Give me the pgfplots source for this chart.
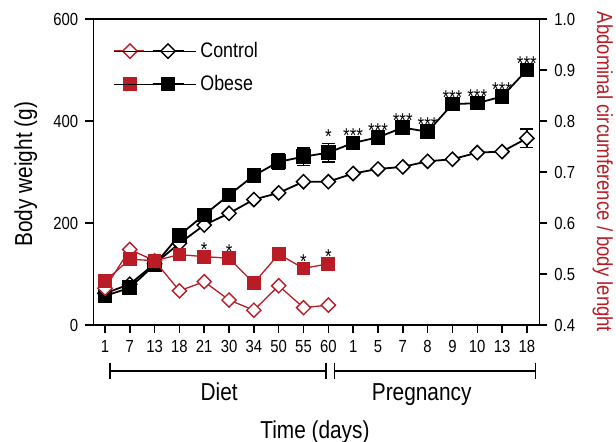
\documentclass[border=0pt]{standalone}
\usepackage{fontspec}
\setmainfont{Liberation Sans}[FakeStretch=0.85]
\usepackage{pgfplots}
\pgfplotsset{compat=1.18}
\usepackage{pgfplotstable}
\definecolor{obred}{RGB}{185,28,36}

\pgfplotstableread{
pos wC wO eC eO
0 62 57 0 0
1 80 73 0 0
2 120 118 0 0
3 160 176 0 0
4 196 216 0 0
5 219 255 0 0
6 246 293 0 0
7 259 320 0 15
8 281 330 0 17
9 281 338 0 18
10 297 357 0 0
11 306 368 0 0
12 310 387 0 0
13 321 379 0 0
14 325 433 0 0
15 338 435 0 0
16 340 448 0 0
17 366 500 18 0
}\bw

\pgfplotstableread{
pos rC rO
0 0.472 0.486
1 0.548 0.529
2 0.526 0.526
3 0.467 0.538
4 0.485 0.534
5 0.449 0.531
6 0.429 0.482
7 0.477 0.539
8 0.434 0.511
9 0.439 0.520
}\ratio

\pgfplotsset{common/.style={
  scale only axis, width=223pt, height=153pt,
  xmin=-0.47, xmax=17.5,
  tick align=outside, major tick length=4pt,
  axis line style={line width=0.75pt},
  major tick style={line width=0.75pt, black},
  tick label style={font=\fontsize{8.75}{10}\selectfont},
  label style={font=\fontsize{12.25}{14}\selectfont},
  /pgf/number format/assume math mode=true,
  clip=false,
}}
\tikzset{ast/.style={anchor=base, inner sep=0pt, font=\fontsize{10}{11}\selectfont}}

\begin{document}
\begin{tikzpicture}
\path[use as bounding box] (-46.65pt,-58.5pt) rectangle (261.35pt,162.5pt);
\begin{axis}[common,
  ymin=0, ymax=600, ytick={0,200,400,600}, ytick pos=left,
  xtick={0,...,17}, xtick pos=bottom,
  xticklabels={1,7,13,18,21,30,34,50,55,60,1,5,7,8,9,10,13,18},
  ylabel={Body weight (g)}, xlabel={Time (days)},
  ylabel style={at={(axis description cs:-0.1374,0.493)}, anchor=base},
  xlabel style={at={(axis description cs:0.497,-0.3725)}, anchor=base},
  legend style={at={(axis description cs:0.044,0.841)}, anchor=west, draw=none, fill=none,
    inner sep=0pt, row sep=3.4pt, font=\fontsize{10.5}{12}\selectfont},
  legend cell align=left,
]
\addlegendimage{legend image code/.code={%
  \draw[obred, line width=0.65pt] (0pt,0pt) -- (15pt,0pt);
  \draw[obred, line width=0.7pt, fill=white] (8pt,3.6pt) -- (11.6pt,0pt) -- (8pt,-3.6pt) -- (4.4pt,0pt) -- cycle;
  \draw[black, line width=0.8pt] (19.5pt,0pt) -- (35pt,0pt);
  \draw[black, line width=0.7pt, fill=white] (27pt,3.6pt) -- (30.6pt,0pt) -- (27pt,-3.6pt) -- (23.4pt,0pt) -- cycle;
  \path (0pt,0pt) -- (41pt,0pt);
}}
\addlegendentry{Control}
\addlegendimage{legend image code/.code={%
  \draw[obred, line width=0.65pt] (0pt,0pt) -- (15pt,0pt);
  \fill[obred] (4.8pt,-3.2pt) rectangle (11.2pt,3.2pt);
  \draw[black, line width=0.8pt] (19.5pt,0pt) -- (35pt,0pt);
  \fill[black] (23.8pt,-3.2pt) rectangle (30.2pt,3.2pt);
  \path (0pt,0pt) -- (41pt,0pt);
}}
\addlegendentry{Obese}

\addplot[forget plot, black, line width=0.9pt, mark=square*, mark size=2.5pt,
  mark options={solid, rotate=45, fill=white, line width=0.75pt},
  error bars/.cd, y dir=both, y explicit,
  error bar style={line width=0.8pt}, error mark options={rotate=90, mark size=3.2pt, line width=0.8pt}]
  table[x=pos, y=wC, y error=eC]{\bw};
\addplot[forget plot, black, line width=0.9pt, mark=square*, mark size=3.2pt,
  mark options={solid, fill=black},
  error bars/.cd, y dir=both, y explicit,
  error bar style={line width=0.8pt}, error mark options={rotate=90, mark size=3.2pt, line width=0.8pt}]
  table[x=pos, y=wO, y error=eO]{\bw};

\node[ast] at (axis cs:9,338) [yshift=4.6pt] {*};
\node[ast] at (axis cs:10,357) {***};
\node[ast] at (axis cs:11,368) {***};
\node[ast] at (axis cs:12,387) {***};
\node[ast] at (axis cs:13,379) {***};
\node[ast] at (axis cs:14,433) {***};
\node[ast] at (axis cs:15,435) {***};
\node[ast] at (axis cs:16,448) {***};
\node[ast] at (axis cs:17,500) {***};

\draw[line width=0.9pt] (axis cs:0.2,-89.6) -- (axis cs:8.91,-89.6);
\draw[line width=0.9pt] (axis cs:0.2,-73.9) -- (axis cs:0.2,-105.3);
\draw[line width=0.9pt] (axis cs:8.91,-73.9) -- (axis cs:8.91,-105.3);
\draw[line width=0.9pt] (axis cs:9.25,-89.6) -- (axis cs:17.35,-89.6);
\draw[line width=0.9pt] (axis cs:9.25,-73.9) -- (axis cs:9.25,-105.3);
\draw[line width=0.9pt] (axis cs:17.35,-73.9) -- (axis cs:17.35,-105.3);
\node[anchor=base, font=\fontsize{12.25}{14}\selectfont] at (axis cs:4.6,-149) {Diet};
\node[anchor=base, font=\fontsize{12.25}{14}\selectfont] at (axis cs:12.76,-149) {Pregnancy};
\end{axis}

\begin{axis}[common,
  ymin=0.4, ymax=1.0, ytick={0.4,0.5,0.6,0.7,0.8,0.9,1.0},
  axis x line=none, axis y line*=right,
  yticklabel style={/pgf/number format/.cd, fixed, fixed zerofill, precision=1},
  ylabel={Abdominal circumference / body lenght},
  ylabel style={at={(axis description cs:1.1294,0.5)}, anchor=base, rotate=180, text=obred,
    font=\fontsize{10.9}{12}\selectfont},
]
\addplot[obred, line width=0.65pt, mark=square*, mark size=2.5pt,
  mark options={solid, rotate=45, fill=white, line width=0.7pt}]
  table[x=pos, y=rC]{\ratio};
\addplot[obred, line width=0.65pt, mark=square*, mark size=3.1pt,
  mark options={solid, fill=obred}]
  table[x=pos, y=rO]{\ratio};
\node[ast] at (axis cs:4,0.534) {*};
\node[ast] at (axis cs:5,0.531) {*};
\node[ast] at (axis cs:8,0.511) {*};
\node[ast] at (axis cs:9,0.520) {*};
\end{axis}
\end{tikzpicture}
\end{document}
